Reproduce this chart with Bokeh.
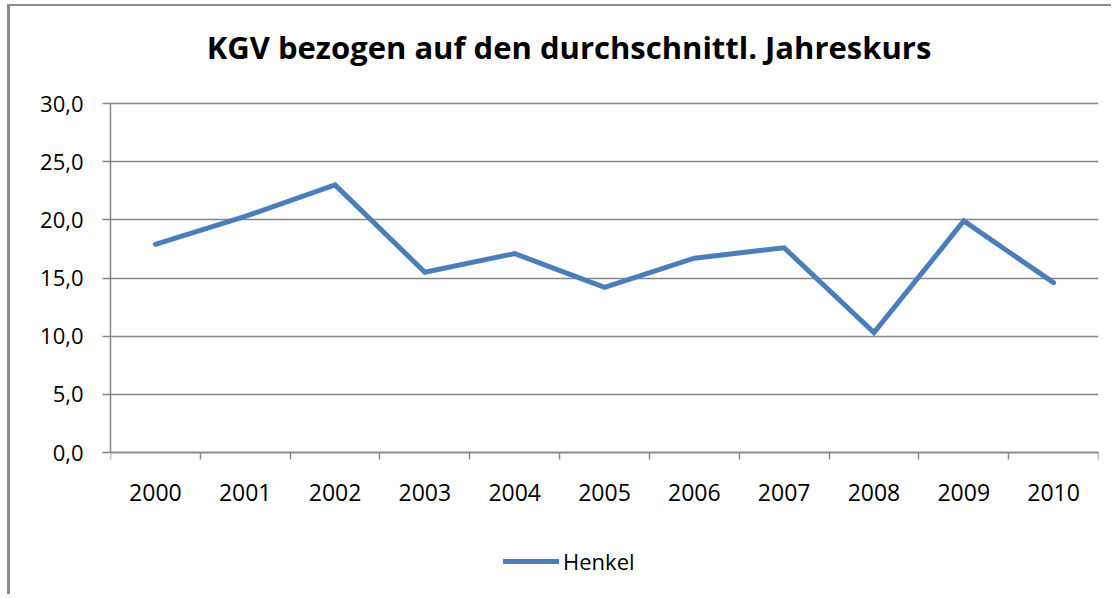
from bokeh.plotting import figure
from bokeh.models import FixedTicker, Legend, LegendItem, Range1d, ColumnDataSource, Label
from bokeh.embed import file_html
from bokeh.resources import INLINE

years = ["2000", "2001", "2002", "2003", "2004", "2005", "2006", "2007", "2008", "2009", "2010"]
henkel = [17.9, 20.3, 23.0, 15.5, 17.1, 14.2, 16.7, 17.6, 10.3, 19.9, 14.6]
y_ticks = [0, 5, 10, 15, 20, 25, 30]
y_tick_labels = ["0,0", "5,0", "10,0", "15,0", "20,0", "25,0", "30,0"]
title_text = "KGV bezogen auf den durchschnittl. Jahreskurs"
series_name = "Henkel"

FONT = "Open Sans"
GRAY = "#868686"
BLUE = "#4A7EBB"

# page layout (px): figure at (10, 6); frame spans the whole figure height;
# value 30 sits at 103 px, value 0 at 452 px
FIG_X, FIG_Y, FIG_W, FIG_H = 10, 6, 1104, 590
TOP30_PX, ZERO_PX = 103, 452
frame_top, frame_bottom = FIG_Y, FIG_Y + FIG_H
px_per_unit = (ZERO_PX - TOP30_PX) / 30.0
y_high = 30 + (TOP30_PX - frame_top) / px_per_unit
y_low = 30 - (frame_bottom - TOP30_PX) / px_per_unit

idx = list(range(len(years)))
src = ColumnDataSource(dict(x=idx, y=henkel, year=years))

p = figure(width=FIG_W, height=FIG_H, output_backend="svg", toolbar_location=None,
           x_range=Range1d(-0.5, len(years) - 0.5), y_range=Range1d(y_low, y_high),
           min_border_left=110 - FIG_X, min_border_right=FIG_X + FIG_W - 1098,
           min_border_top=0, min_border_bottom=0)
p.styles = {"margin-left": f"{FIG_X}px", "margin-top": f"{FIG_Y}px",
            "box-shadow": "-3px -2px 0 0 #8a8a8a"}

p.outline_line_color = None
p.background_fill_color = "white"
p.border_fill_color = "white"

# x axis (drawn at value 0 inside the frame)
p.xaxis.fixed_location = 0
p.xaxis.ticker = FixedTicker(ticks=idx, minor_ticks=[i - 0.5 for i in range(len(years) + 1)])
p.xaxis.major_label_overrides = {i: y for i, y in enumerate(years)}
p.xaxis.major_tick_line_color = None
p.xaxis.minor_tick_line_color = GRAY
p.xaxis.minor_tick_line_width = 1.5
p.xaxis.minor_tick_out = 7
p.xaxis.minor_tick_in = 0
p.xaxis.axis_line_color = GRAY
p.xaxis.axis_line_width = 1.5
p.xaxis.major_label_text_font = FONT
p.xaxis.major_label_text_font_size = "23px"
p.xaxis.major_label_text_color = "#000000"
p.xaxis.major_label_standoff = 24
p.xgrid.grid_line_color = None

# y axis
p.yaxis.bounds = (0, 30)
p.yaxis.ticker = FixedTicker(ticks=y_ticks, minor_ticks=[])
p.yaxis.major_label_overrides = {t: l for t, l in zip(y_ticks, y_tick_labels)}
p.yaxis.major_tick_line_color = GRAY
p.yaxis.major_tick_line_width = 1.5
p.yaxis.major_tick_out = 8
p.yaxis.major_tick_in = 0
p.yaxis.axis_line_color = GRAY
p.yaxis.axis_line_width = 1.5
p.yaxis.major_label_text_font = FONT
p.yaxis.major_label_text_font_size = "22px"
p.yaxis.major_label_text_color = "#000000"
p.yaxis.major_label_standoff = 19
p.ygrid.ticker = FixedTicker(ticks=y_ticks)
p.ygrid.grid_line_color = GRAY
p.ygrid.grid_line_width = 1.5

r = p.line("x", "y", source=src, line_color=BLUE, line_width=5, line_join="miter", line_cap="round")

# chart title (screen units relative to the frame's bottom-left corner)
title = Label(x=568.5 - 110, y=frame_bottom - 46, x_units="screen", y_units="screen",
              text=title_text, text_align="center", text_baseline="alphabetic",
              text_font=FONT, text_font_style="bold", text_font_size="31px",
              text_color="#000000")
p.add_layout(title)

legend = Legend(items=[LegendItem(label=series_name, renderers=[r])],
                orientation="horizontal", location=(393, 20),
                label_text_font=FONT, label_text_font_size="22px", label_text_color="#000000",
                glyph_width=56, glyph_height=20, label_standoff=4,
                border_line_color=None, background_fill_alpha=0,
                margin=0, padding=4)
p.add_layout(legend, "center")

open("out.html", "w").write(file_html(p, INLINE))
